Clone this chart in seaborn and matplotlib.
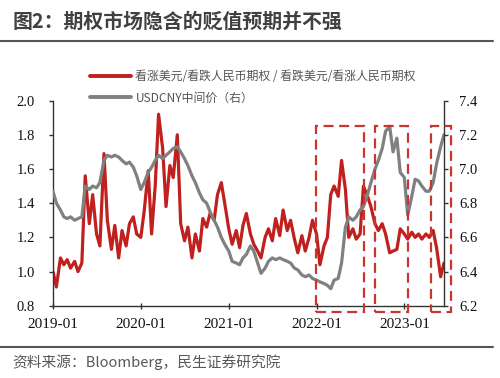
import numpy as np
import pandas as pd
import matplotlib
matplotlib.use('Agg')
import matplotlib.pyplot as plt
import matplotlib.dates as mdates
from matplotlib.patches import Rectangle
from matplotlib.lines import Line2D
import seaborn as sns

sns.set_theme(style="white")
plt.rcParams['font.family'] = ['serif']
plt.rcParams['font.serif'] = ['Liberation Serif', 'DejaVu Serif']
plt.rcParams['axes.unicode_minus'] = False

# semi-monthly observations, 2019-01 .. 2023-06
dates = pd.date_range('2019-01-01', '2023-06-16', freq='SMS')

# 看涨美元/看跌人民币期权 / 看跌美元/看涨人民币期权 (left axis)
ratio = [1.00, 0.91, 1.08, 1.04, 1.07, 1.02, 1.06, 1.00, 1.05, 1.56,
         1.28, 1.45, 1.22, 1.15, 1.69, 1.30, 1.13, 1.27, 1.08, 1.24,
         1.15, 1.28, 1.32, 1.22, 1.20, 1.35, 1.59, 1.22, 1.50, 1.92,
         1.72, 1.38, 1.62, 1.55, 1.80, 1.28, 1.18, 1.26, 1.08, 1.22,
         1.12, 1.31, 1.26, 1.34, 1.30, 1.45, 1.52, 1.40, 1.25, 1.16,
         1.24, 1.14, 1.27, 1.34, 1.22, 1.16, 1.12, 1.08, 1.20, 1.25,
         1.18, 1.31, 1.21, 1.36, 1.24, 1.30, 1.19, 1.11, 1.21, 1.12,
         1.20, 1.30, 1.22, 1.04, 1.15, 1.20, 1.45, 1.50, 1.44, 1.65,
         1.48, 1.20, 1.25, 1.19, 1.22, 1.50, 1.44, 1.38, 1.28, 1.24,
         1.28, 1.22, 1.11, 1.12, 1.13, 1.25, 1.22, 1.19, 1.23, 1.20,
         1.22, 1.19, 1.22, 1.20, 1.24, 1.14, 0.97, 1.05]

# USDCNY 中间价 (right axis)
usdcny = [6.87, 6.80, 6.76, 6.72, 6.71, 6.72, 6.70, 6.71, 6.72, 6.90,
          6.88, 6.90, 6.89, 6.92, 7.05, 7.08, 7.07, 7.08, 7.07, 7.05,
          7.03, 7.04, 7.01, 6.96, 6.88, 6.92, 6.98, 7.01, 7.05, 7.08,
          7.06, 7.08, 7.10, 7.12, 7.13, 7.10, 7.06, 7.02, 6.96, 6.92,
          6.86, 6.82, 6.80, 6.75, 6.70, 6.66, 6.60, 6.56, 6.52, 6.46,
          6.45, 6.44, 6.48, 6.50, 6.55, 6.52, 6.45, 6.39, 6.42, 6.46,
          6.48, 6.47, 6.48, 6.47, 6.46, 6.45, 6.42, 6.41, 6.38, 6.37,
          6.38, 6.36, 6.35, 6.34, 6.33, 6.32, 6.30, 6.35, 6.36, 6.45,
          6.66, 6.72, 6.70, 6.72, 6.76, 6.78, 6.85, 6.92, 7.00, 7.05,
          7.12, 7.22, 7.25, 7.10, 7.18, 6.98, 6.95, 6.73, 6.84, 6.94,
          6.93, 6.90, 6.87, 6.87, 6.92, 7.03, 7.13, 7.20]

# highlighted windows (start, end)
boxes = [('2021-12-28', '2022-07-19'),
         ('2022-08-30', '2023-01-17'),
         ('2023-04-20', '2023-07-16')]

red = '#C0201E'
grey = '#808080'
cjk = ['Noto Sans CJK SC', 'DejaVu Sans']

fig = plt.figure(figsize=(5, 3.78), dpi=100)
ax = fig.add_axes([0.106, 0.191, 0.782, 0.543])
sns.lineplot(x=dates, y=ratio, ax=ax, color=red, linewidth=2.3)
ax.set_ylim(0.8, 2.0)
ax.set_yticks(np.arange(0.8, 2.01, 0.2))
ax.yaxis.set_major_formatter(matplotlib.ticker.FormatStrFormatter('%.1f'))

ax2 = ax.twinx()
sns.lineplot(x=dates, y=usdcny, ax=ax2, color=grey, linewidth=2.3)
ax2.set_ylim(6.2, 7.4)
ax2.set_yticks(np.arange(6.2, 7.41, 0.2))
ax2.yaxis.set_major_formatter(matplotlib.ticker.FormatStrFormatter('%.1f'))

ax.set_xlim(pd.Timestamp('2019-01-01'), pd.Timestamp('2023-06-15'))
ax.xaxis.set_major_locator(mdates.YearLocator())
ax.xaxis.set_major_formatter(mdates.DateFormatter('%Y-%m'))

for a in (ax, ax2):
    a.set_xlabel('')
    a.set_ylabel('')
    a.grid(False)
    for s in a.spines.values():
        s.set_color('#333333')
        s.set_linewidth(1.0)
    a.spines['top'].set_visible(False)
ax.spines['right'].set_visible(False)
ax2.spines['left'].set_visible(False)
ax2.spines['bottom'].set_visible(False)

ax.tick_params(axis='y', direction='out', length=3, width=1, color='#333333',
               pad=10, labelsize=10.5, labelcolor='#111111', left=True)
ax.tick_params(axis='x', direction='inout', length=5, width=1, color='#333333',
               pad=6, labelsize=11, labelcolor='#111111', bottom=True)
ax2.tick_params(axis='y', direction='out', length=3, width=1, color='#333333',
                pad=8, labelsize=10.5, labelcolor='#111111', right=True)

for start, end in boxes:
    x0 = mdates.date2num(pd.Timestamp(start))
    x1 = mdates.date2num(pd.Timestamp(end))
    ax2.add_patch(Rectangle((x0, 6.165), x1 - x0, 1.085, fill=False,
                            edgecolor='#C8372D', linewidth=1.6,
                            linestyle=(0, (4.5, 2.5)), clip_on=False, zorder=5))

handles = [Line2D([], [], color=red, linewidth=2.8),
           Line2D([], [], color=grey, linewidth=2.8)]
labels = ['看涨美元/看跌人民币期权 / 看跌美元/看涨人民币期权', 'USDCNY中间价（右）']
fig.legend(handles, labels, loc='upper left', bbox_to_anchor=(0.18, 1 - 70 / 378),
           frameon=False, borderpad=0, borderaxespad=0, handlelength=3.4,
           handletextpad=0.4, labelspacing=0.7, labelcolor='#555555',
           prop={'family': cjk, 'size': 8.6})

fig.text(0.026, 1 - 21 / 378, '图2：期权市场隐含的贬值预期并不强',
         fontsize=14.3, fontweight='bold', color='#404040',
         family=cjk, va='center', ha='left')
fig.add_artist(Line2D([0, 0.986], [1 - 41 / 378] * 2, color='#555555', linewidth=1.5))
fig.add_artist(Line2D([0, 0.986], [1 - 346.5 / 378] * 2, color='#555555', linewidth=1.5))
fig.text(0.024, 1 - 362 / 378, '资料来源：Bloomberg，民生证券研究院',
         fontsize=10.6, color='#595959', family=cjk,
         va='center', ha='left')

fig.savefig('out.png', dpi=100)
